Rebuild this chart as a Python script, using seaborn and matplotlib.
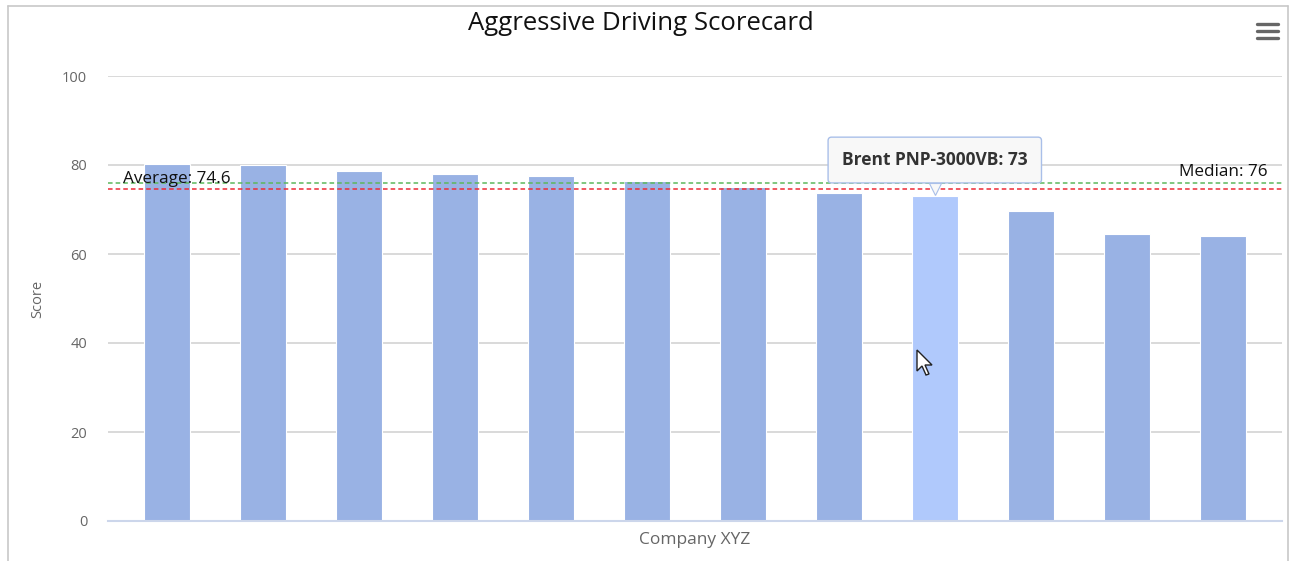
import matplotlib
matplotlib.use("Agg")
import matplotlib.pyplot as plt
import matplotlib.transforms as mtransforms
from matplotlib.patches import Polygon
from matplotlib.lines import Line2D
import seaborn as sns
import pandas as pd

# ---- data ----
vehicles = ["Vehicle 01", "Vehicle 02", "Vehicle 03", "Vehicle 04", "Vehicle 05",
            "Vehicle 06", "Vehicle 07", "Vehicle 08", "Brent PNP-3000VB",
            "Vehicle 10", "Vehicle 11", "Vehicle 12"]
scores = [80.2, 79.9, 78.6, 77.9, 77.6, 76.4, 75.1, 73.8, 73.0, 69.7, 64.5, 64.1]
category_label = "Company XYZ"
average_value = 74.6
median_value = 76
highlight_name = "Brent PNP-3000VB"
y_ticks = [0, 20, 40, 60, 80, 100]

df = pd.DataFrame({"vehicle": vehicles, "score": scores})

BASE = "#99b2e4"
HILITE = "#b0c9fc"
palette = {v: (HILITE if v == highlight_name else BASE) for v in vehicles}

sns.set_theme(style="white")
plt.rcParams["font.family"] = ["Open Sans", "DejaVu Sans"]

W, H = 1292, 561
fig = plt.figure(figsize=(W / 100, H / 100), dpi=100)
ax = fig.add_axes([108 / W, 1 - 521 / H, (1282 - 108) / W, (521 - 76) / H])

sns.barplot(data=df, x="vehicle", y="score", hue="vehicle", palette=palette,
            order=vehicles, hue_order=vehicles, width=0.48, legend=False,
            edgecolor="white", linewidth=0.8, saturation=1, ax=ax, zorder=2)

ax.set_xlim(-0.62, len(vehicles) - 1 + 0.62)
ax.set_ylim(0, 100)
ax.set_yticks(y_ticks)
ax.set_yticklabels([str(t) for t in y_ticks], color="#666666", fontsize=10.5)
ax.tick_params(axis="y", length=0, pad=15)
ax.set_xticks([])
ax.grid(axis="y", color="#d0d0d0", linewidth=1.1, zorder=0)
ax.set_axisbelow(True)
for s in ["top", "right", "left"]:
    ax.spines[s].set_visible(False)
ax.spines["bottom"].set_color("#ccd6eb")
ax.spines["bottom"].set_linewidth(1.5)
ax.spines["bottom"].set_zorder(3)

ax.set_xlabel(category_label, color="#666666", fontsize=12.5, labelpad=8)
ax.set_ylabel("Score", color="#666666", fontsize=10.5)
ax.yaxis.set_label_coords((45 - 108) / (1282 - 108), 0.5)

# plot lines
ax.axhline(median_value, color="#5cb85c", linestyle=(0, (3, 2)), linewidth=1.1, zorder=4)
ax.axhline(average_value, color="#ee2a36", linestyle=(0, (3, 2)), linewidth=1.1, zorder=4)
ax.annotate(f"Average: {average_value}", xy=(0.0128, average_value),
            xycoords=("axes fraction", "data"), xytext=(0, 7), textcoords="offset points",
            ha="left", va="center", fontsize=12.3, color="#111111", zorder=5)
ax.annotate(f"Median: {median_value}", xy=(0.988, median_value),
            xycoords=("axes fraction", "data"), xytext=(0, 8), textcoords="offset points",
            ha="right", va="center", fontsize=12.3, color="#111111", zorder=5)

# tooltip
hi = vehicles.index(highlight_name)
hv = scores[hi]
ax.annotate(f"{highlight_name}: {hv:g}", xy=(hi, hv), xytext=(0, 26),
            textcoords="offset points", ha="center", va="center",
            fontsize=12.5, fontweight="bold", color="#333333", zorder=7,
            bbox=dict(boxstyle="round,pad=0.8,rounding_size=0.2",
                      fc="#f8f8f8", ec="#a9bfe9", lw=1.0))
ax.plot([hi], [hv], marker="v", markersize=8, color="#f8f8f8",
        markeredgecolor="#a9bfe9", markeredgewidth=0.8, zorder=6,
        transform=ax.transData + mtransforms.ScaledTranslation(0, 5 / 72, fig.dpi_scale_trans),
        clip_on=False)

# title
fig.text(641 / W, 1 - 23 / H, "Aggressive Driving Scorecard", ha="center", va="center",
         fontsize=18.5, color="#111111")

# chart frame
frame_kw = dict(color="#c8c8c8", linewidth=1.2, transform=fig.transFigure)
fig.add_artist(Line2D([8 / W, 8 / W], [0, 1 - 6 / H], **frame_kw))
fig.add_artist(Line2D([8 / W, 1288 / W], [1 - 6 / H, 1 - 6 / H], **frame_kw))
fig.add_artist(Line2D([1288 / W, 1288 / W], [0, 1 - 6 / H], **frame_kw))

# menu icon
for yy in (24, 31, 38):
    fig.add_artist(Line2D([1257 / W, 1278 / W], [1 - yy / H, 1 - yy / H], color="#666666",
                          linewidth=2.4, solid_capstyle="round", transform=fig.transFigure))

# mouse cursor
cx, cy = 917, 350
pts = [(0, 0), (0, 21), (5, 16), (9, 25), (12, 24), (8, 15), (15, 15)]
poly = Polygon([((cx + px) / W, 1 - (cy + py) / H) for px, py in pts], closed=True,
               fc="white", ec="#222222", lw=1.0, transform=fig.transFigure, zorder=10)
fig.add_artist(poly)

fig.savefig("out.png", dpi=100)
